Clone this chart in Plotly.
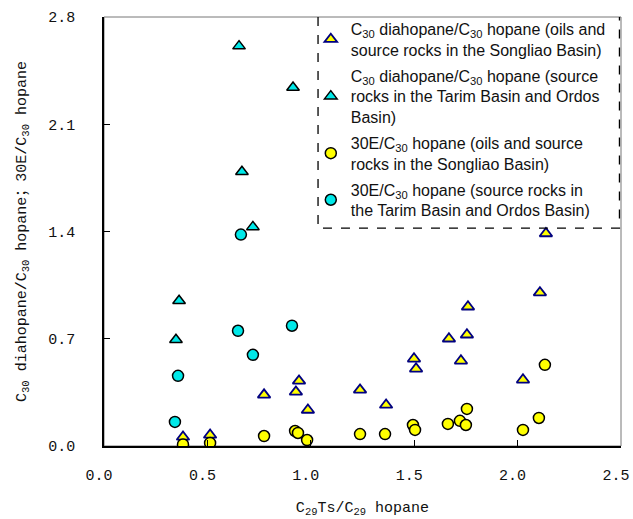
import plotly.graph_objects as go

# C30 diahopane/C30 hopane - oils and source rocks in the Songliao Basin
dia_songliao_x = [0.382, 0.513, 0.774, 0.943, 0.928, 0.986, 1.238, 1.364, 1.499, 1.509,
                  1.668, 1.726, 1.755, 1.760, 2.026, 2.108, 2.137]
dia_songliao_y = [0.059, 0.072, 0.334, 0.425, 0.353, 0.235, 0.366, 0.268, 0.569, 0.504,
                  0.700, 0.556, 0.726, 0.909, 0.432, 1.001, 1.387]

# C30 diahopane/C30 hopane - source rocks in the Tarim Basin and Ordos Basin
dia_tarim_x = [0.653, 0.914, 0.667, 0.720, 0.363, 0.348]
dia_tarim_y = [2.61, 2.34, 1.79, 1.43, 0.948, 0.693]

# 30E/C30 hopane - oils and source rocks in the Songliao Basin
e30_songliao_x = [0.382, 0.513, 0.774, 0.924, 0.938, 0.982, 1.238, 1.359, 1.494, 1.504,
                  1.663, 1.721, 1.750, 1.755, 2.026, 2.103, 2.132]
e30_songliao_y = [0.010, 0.020, 0.065, 0.098, 0.085, 0.039, 0.078, 0.078, 0.137, 0.105,
                  0.144, 0.164, 0.137, 0.242, 0.105, 0.183, 0.530]

# 30E/C30 hopane - source rocks in the Tarim Basin and Ordos Basin
e30_tarim_x = [0.662, 0.648, 0.909, 0.720, 0.358, 0.343]
e30_tarim_y = [1.38, 0.752, 0.785, 0.595, 0.458, 0.157]

names = [
    "C<sub>30</sub> diahopane/C<sub>30</sub> hopane (oils and<br>source rocks in the Songliao Basin)",
    "C<sub>30</sub> diahopane/C<sub>30</sub> hopane (source<br>rocks in the Tarim Basin and Ordos<br>Basin)",
    "30E/C<sub>30</sub> hopane (oils and source<br>rocks in the Songliao Basin)",
    "30E/C<sub>30</sub> hopane (source rocks in<br>the Tarim Basin and Ordos Basin)",
]

YELLOW = "#FFFF00"
CYAN = "#00E8E8"

fig = go.Figure()
fig.add_trace(go.Scatter(x=dia_songliao_x, y=dia_songliao_y, mode="markers", name=names[0],
                         legendgroup="g1",
                         marker=dict(symbol="triangle-up", size=11, color=YELLOW,
                                     line=dict(color="#000080", width=1.8))))
fig.add_trace(go.Scatter(x=dia_tarim_x, y=dia_tarim_y, mode="markers", name=names[1],
                         legendgroup="g2",
                         marker=dict(symbol="triangle-up", size=11, color=CYAN,
                                     line=dict(color="#000000", width=1.5))))
fig.add_trace(go.Scatter(x=e30_songliao_x, y=e30_songliao_y, mode="markers", name=names[2],
                         legendgroup="g3",
                         marker=dict(symbol="circle", size=11, color=YELLOW,
                                     line=dict(color="#000000", width=1.5))))
fig.add_trace(go.Scatter(x=e30_tarim_x, y=e30_tarim_y, mode="markers", name=names[3],
                         legendgroup="g4",
                         marker=dict(symbol="circle", size=11, color=CYAN,
                                     line=dict(color="#000000", width=1.5))))

tick_font = dict(family="Liberation Mono, Noto Sans CJK SC", size=15, color="#111111")

fig.update_layout(
    width=633, height=519,
    margin=dict(l=104, r=12, t=17, b=73),
    paper_bgcolor="white", plot_bgcolor="white",
    showlegend=True,
    legend=dict(x=0.40, y=1.012, xanchor="left", yanchor="top",
                bgcolor="rgba(255,255,255,0)", borderwidth=0,
                font=dict(family="Liberation Sans, Arial", size=16, color="#111111"),
                tracegroupgap=2),
    xaxis=dict(range=[0, 2.5], dtick=0.5, tick0=0, tickformat=".1f", automargin=False,
               showgrid=False, zeroline=False, showline=True, linecolor="black", linewidth=1.5,
               ticks="inside", ticklen=6, tickcolor="black", ticklabeloverflow="allow",
               ticklabelshift=-5,
               tickfont=tick_font, ticklabelstandoff=14,
               title=dict(text="C<sub>29</sub>Ts/C<sub>29</sub> hopane", font=tick_font, standoff=18)),
    yaxis=dict(range=[0, 2.8], dtick=0.7, tick0=0, tickformat=".1f", automargin=False,
               showgrid=False, zeroline=False, showline=True, linecolor="black", linewidth=1.5,
               ticks="inside", ticklen=6, tickcolor="black", ticklabeloverflow="allow",
               tickfont=tick_font, ticklabelstandoff=24,
               title=dict(text="C<sub>30</sub> diahopane/C<sub>30</sub> hopane；30E/C<sub>30</sub> hopane",
                          font=tick_font, standoff=18)),
    shapes=[
        dict(type="rect", xref="paper", yref="paper", x0=0, x1=1, y0=0, y1=1,
             line=dict(color="#777777", width=1), layer="below"),
        dict(type="path", xref="paper", yref="paper",
             path="M 0.414 1.0 L 0.414 0.508 L 0.997 0.508 L 0.997 1.0",
             line=dict(color="black", width=1.3, dash="dash"), layer="above"),
    ],
)

fig.write_html("out.html", config={"displayModeBar": False},
               post_script="document.body.style.margin='0px';")
